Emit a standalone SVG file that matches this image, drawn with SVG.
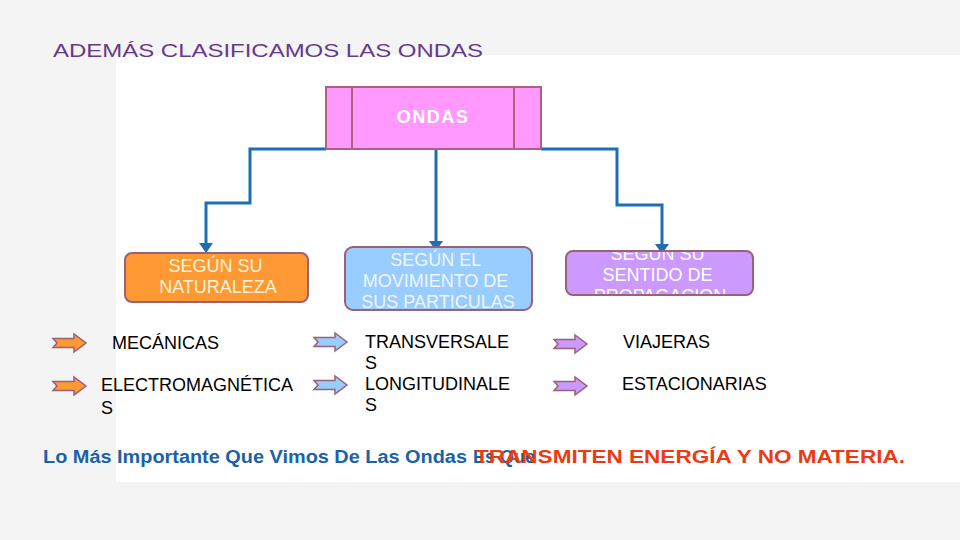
<svg xmlns="http://www.w3.org/2000/svg" width="960" height="540" viewBox="0 0 960 540">
  <style>
    .t { font-family: "Liberation Sans", Arial, sans-serif; font-size: 18px; }
    .lbl { fill: #000000; }
    .conn { fill: none; stroke: #1f6db5; stroke-width: 3; }
    .head { fill: #1f6db5; }
    .box { stroke: #9a6275; stroke-width: 2; }
    .barrow { stroke: #9a6275; stroke-width: 1.5; }
  </style>
  <defs>
    <path id="blk" d="M0,-4.5 L21,-4.5 L21,-9 L33,0 L21,9 L21,4.5 L0,4.5 L4,0 Z"/>
    <clipPath id="c3"><rect x="566" y="251" width="187" height="44" rx="7"/></clipPath>
  </defs>

  <rect x="0" y="0" width="960" height="540" fill="#f4f4f4"/>
  <rect x="116" y="55" width="844" height="427" fill="#ffffff"/>

  <text class="t" x="53" y="57" font-size="22" fill="#653a8c" textLength="430" lengthAdjust="spacingAndGlyphs">ADEMÁS CLASIFICAMOS LAS ONDAS</text>

  <g id="connectors">
    <path class="conn" d="M326,149 L250,149 L250,203 L206,203 L206,244"/>
    <path class="conn" d="M436,149 L436,242"/>
    <path class="conn" d="M541,149 L617,149 L617,205 L662,205 L662,245"/>
    <path class="head" d="M199,243 L213,243 L206,253 Z"/>
    <path class="head" d="M429,241 L443,241 L436,251 Z"/>
    <path class="head" d="M655,244 L669,244 L662,254 Z"/>
  </g>

  <g id="ondas">
    <rect x="326" y="87" width="215" height="62" fill="#ff99ff" stroke="#b0607f" stroke-width="2"/>
    <line x1="352" y1="87" x2="352" y2="149" stroke="#b0607f" stroke-width="2"/>
    <line x1="514" y1="87" x2="514" y2="149" stroke="#b0607f" stroke-width="2"/>
    <text class="t" x="433" y="123" font-size="16" font-weight="bold" fill="#ffffff" text-anchor="middle" letter-spacing="1.5">ONDAS</text>
  </g>

  <g id="naturaleza">
    <rect class="box" x="125" y="253" width="183" height="49" rx="7" fill="#ff9933"/>
    <text class="t" fill="#fff2d6" text-anchor="middle">
      <tspan x="218" y="272">SEGÚN SU</tspan>
      <tspan x="218" y="293">NATURALEZA</tspan>
    </text>
  </g>

  <g id="movimiento">
    <rect class="box" x="345" y="247" width="187" height="63" rx="8" fill="#99ccff"/>
    <text class="t" fill="#eef6ff" text-anchor="middle">
      <tspan x="438" y="266">SEGÚN EL</tspan>
      <tspan x="438" y="287">MOVIMIENTO DE</tspan>
      <tspan x="438" y="308">SUS PARTICULAS</tspan>
    </text>
  </g>

  <g id="sentido">
    <rect x="566" y="251" width="187" height="44" rx="7" fill="#cc99ff"/>
    <text class="t" fill="#ffffff" text-anchor="middle" clip-path="url(#c3)">
      <tspan x="660" y="260">SEGÚN SU</tspan>
      <tspan x="660" y="281">SENTIDO DE</tspan>
      <tspan x="660" y="302">PROPAGACION</tspan>
    </text>
    <rect class="box" x="566" y="251" width="187" height="44" rx="7" fill="none"/>
  </g>

  <g id="mecanicas">
    <use href="#blk" x="53" y="343" fill="#ff9933" class="barrow"/>
    <text class="t lbl" x="112" y="349">MECÁNICAS</text>
  </g>
  <g id="electromagneticas">
    <use href="#blk" x="53" y="386" fill="#ff9933" class="barrow"/>
    <text class="t lbl"><tspan x="101" y="391">ELECTROMAGNÉTICA</tspan><tspan x="101" y="414">S</tspan></text>
  </g>
  <g id="transversales">
    <use href="#blk" x="314" y="342" fill="#99ccff" class="barrow"/>
    <text class="t lbl"><tspan x="365" y="348">TRANSVERSALE</tspan><tspan x="365" y="369">S</tspan></text>
  </g>
  <g id="longitudinales">
    <use href="#blk" x="314" y="385" fill="#99ccff" class="barrow"/>
    <text class="t lbl"><tspan x="365" y="390">LONGITUDINALE</tspan><tspan x="365" y="411">S</tspan></text>
  </g>
  <g id="viajeras">
    <use href="#blk" x="554" y="344" fill="#cc99ff" class="barrow"/>
    <text class="t lbl" x="623" y="348">VIAJERAS</text>
  </g>
  <g id="estacionarias">
    <use href="#blk" x="554" y="386" fill="#cc99ff" class="barrow"/>
    <text class="t lbl" x="622" y="390">ESTACIONARIAS</text>
  </g>

  <g id="conclusion">
    <text class="t" x="43" y="463" font-size="20" font-weight="bold" fill="#1a62a8" textLength="424" lengthAdjust="spacingAndGlyphs">Lo Más Importante Que Vimos De Las Ondas</text>
    <text class="t" x="473" y="463" font-size="20" font-weight="bold" fill="#1a62a8">Es Que</text>
    <text class="t" x="475" y="463" font-size="21" font-weight="bold" fill="#ee3a12" textLength="430" lengthAdjust="spacingAndGlyphs">TRANSMITEN ENERGÍA Y NO MATERIA.</text>
  </g>
</svg>
